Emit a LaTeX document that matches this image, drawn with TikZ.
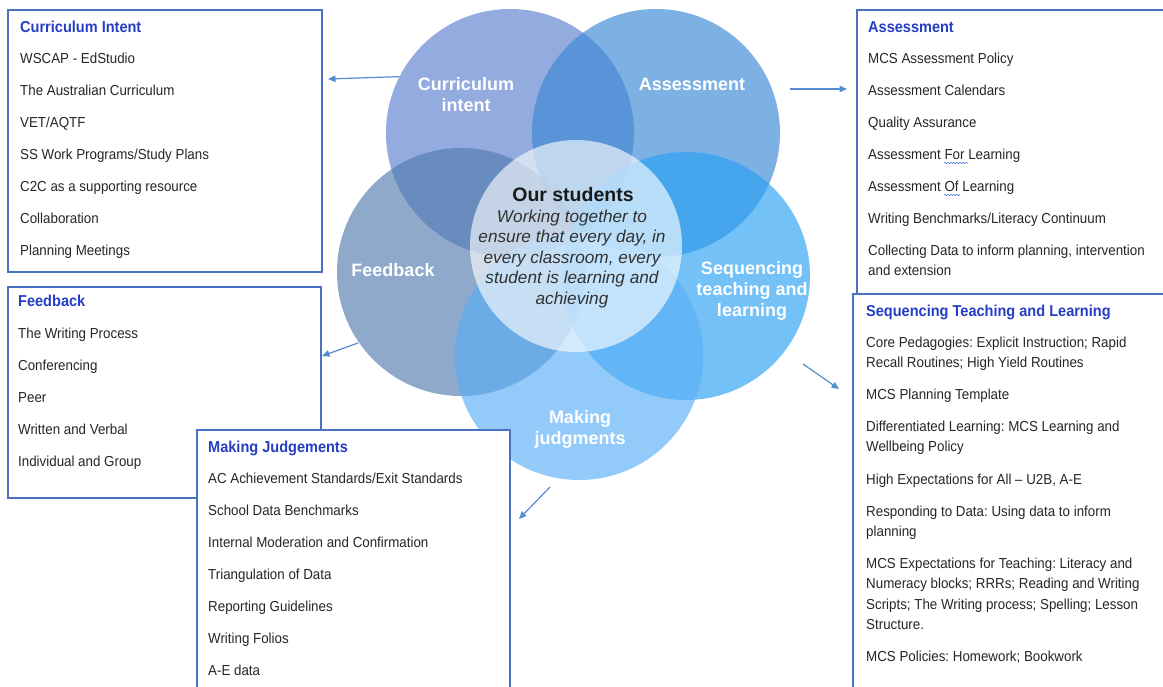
\documentclass[tikz,border=0pt]{standalone}
\usepackage{fontspec}
\setmainfont{Liberation Sans}
\newfontfamily\narrowfont{Liberation Sans}[FakeStretch=0.92]
\usetikzlibrary{arrows.meta,decorations.pathmorphing}

% petal colours (drawn semi-transparent, so overlaps darken)
\definecolor{ciBlue}{RGB}{90,126,207}
\definecolor{asBlue}{RGB}{57,136,212}
\definecolor{fbBlue}{RGB}{83,124,175}
\definecolor{sqBlue}{RGB}{40,161,243}
\definecolor{mjBlue}{RGB}{89,175,246}
% frames, arrows and text
\definecolor{frameBlue}{RGB}{74,114,196}
\definecolor{arrowBlue}{RGB}{86,140,210}
\definecolor{headBlue}{RGB}{38,62,196}
\definecolor{bodyGrey}{RGB}{38,38,38}
\definecolor{coreGrey}{RGB}{50,50,50}
\definecolor{squiggle}{RGB}{70,110,220}

\begin{document}
\frenchspacing
\begin{tikzpicture}[x=1pt,y=-1pt,
  petal/.style={circle, minimum size=248pt, inner sep=0pt, fill opacity=0.65},
  petallabel/.style={text=white, font=\fontsize{18}{21}\selectfont\bfseries, align=center},
  panel/.style={draw=frameBlue, line width=1.4pt, fill=white},
  heading/.style={anchor=north west, inner sep=0pt, text=headBlue,
    font=\narrowfont\fontsize{15.8}{20.5}\selectfont\bfseries,
    execute at begin node=\strut, yshift=9.35pt},
  entry/.style={anchor=north west, inner sep=0pt, text=bodyGrey,
    font=\narrowfont\fontsize{14.5}{20.5}\selectfont, align=left,
    execute at begin node=\strut, yshift=9.35pt},
  link/.style={draw=arrowBlue, line width=1.2pt, -{Triangle[length=7.5pt,width=6.5pt]}},
  spellmark/.style={draw=squiggle, line width=0.6pt, decorate,
    decoration={snake, amplitude=0.7pt, segment length=3pt}}
]
\useasboundingbox (0,0) rectangle (1163,687);
\fill[white] (0,0) rectangle (1163,687);

% ---- the five petals and the core ----
\node[petal, fill=ciBlue] (cC) at (510,133) {};
\node[petal, fill=asBlue] (cA) at (656,133) {};
\node[petal, fill=fbBlue] (cF) at (461,272) {};
\node[petal, fill=sqBlue] (cS) at (686,276) {};
\node[petal, fill=mjBlue] (cM) at (579,356) {};
\node[circle, minimum size=212pt, inner sep=0pt, fill=white, fill opacity=0.62] (core) at (576,246) {};

\node[petallabel] (lC) at (466,94.5) {Curriculum\\intent};
\node[petallabel] (lA) at (692,84) {Assessment};
\node[petallabel] (lF) at (393,270) {Feedback};
\node[petallabel] (lS) at (752,291) {Sequencing\\teaching and\\learning};
\node[petallabel] (lM) at (580,429.5) {Making\\judgments};

\node[text=black!90, font=\fontsize{19.5}{21}\selectfont\bfseries] (coreHead) at (573,195) {Our students};
\node[text=coreGrey, font=\fontsize{17.2}{20.5}\selectfont\itshape, align=center] (coreBody) at (572,259)
  {\strut Working together to\\\strut ensure that every day, in\\\strut every classroom, every\\\strut student is learning and\\\strut achieving};

% ---- Curriculum Intent panel ----
\draw[panel] (8,10) rectangle (322,272);
\node[heading] (ciHead) at (20,27) {Curriculum Intent};
\node[entry] (ci1) at (20,58) {WSCAP - EdStudio};
\node[entry] (ci2) at (20,90) {The Australian Curriculum};
\node[entry] (ci3) at (20,122) {VET/AQTF};
\node[entry] (ci4) at (20,154) {SS Work Programs/Study Plans};
\node[entry] (ci5) at (20,186) {C2C as a supporting resource};
\node[entry] (ci6) at (20,218) {Collaboration};
\node[entry] (ci7) at (20,250) {Planning Meetings};

% ---- Assessment panel ----
\draw[panel] (857,10) rectangle (1175,294);
\node[heading] (asHead) at (868,27) {Assessment};
\node[entry] (as1) at (868,58) {MCS Assessment Policy};
\node[entry] (as2) at (868,90) {Assessment Calendars};
\node[entry] (as3) at (868,122) {Quality Assurance};
\node[entry] (as4) at (868,154) {Assessment For Learning};
\node[entry] (as5) at (868,186) {Assessment Of Learning};
\node[entry] (as6) at (868,218) {Writing Benchmarks/Literacy Continuum};
\node[entry] (as7) at (868,250) {\strut Collecting Data to inform planning, intervention\\and extension};
% proofing squiggles under "For" and "Of"
\draw[spellmark] (944,163) -- (968,163);
\draw[spellmark] (944,195) -- (960,195);

% ---- Sequencing Teaching and Learning panel ----
\draw[panel] (853,294) rectangle (1175,700);
\node[heading] (sqHead) at (866,311) {Sequencing Teaching and Learning};
\node[entry] (sq1) at (866,342) {\strut Core Pedagogies: Explicit Instruction; Rapid\\Recall Routines; High Yield Routines};
\node[entry] (sq2) at (866,394) {MCS Planning Template};
\node[entry] (sq3) at (866,426) {\strut Differentiated Learning: MCS Learning and\\Wellbeing Policy};
\node[entry] (sq4) at (866,479) {High Expectations for All – U2B, A-E};
\node[entry] (sq5) at (866,511) {\strut Responding to Data: Using data to inform\\planning};
\node[entry] (sq6) at (866,563) {\strut MCS Expectations for Teaching: Literacy and\\Numeracy blocks; RRRs; Reading and Writing\\Scripts; The Writing process; Spelling; Lesson\\Structure.};
\node[entry] (sq7) at (866,656) {MCS Policies: Homework; Bookwork};

% ---- Feedback panel ----
\draw[panel] (8,287) rectangle (321,498);
\node[heading] (fbHead) at (18,301) {Feedback};
\node[entry] (fb1) at (18,333) {The Writing Process};
\node[entry] (fb2) at (18,365) {Conferencing};
\node[entry] (fb3) at (18,397) {Peer};
\node[entry] (fb4) at (18,429) {Written and Verbal};
\node[entry] (fb5) at (18,461) {Individual and Group};

% ---- Making Judgements panel ----
\draw[panel] (197,430) rectangle (510,700);
\node[heading] (mjHead) at (208,447) {Making Judgements};
\node[entry] (mj1) at (208,478) {AC Achievement Standards/Exit Standards};
\node[entry] (mj2) at (208,510) {School Data Benchmarks};
\node[entry] (mj3) at (208,542) {Internal Moderation and Confirmation};
\node[entry] (mj4) at (208,574) {Triangulation of Data};
\node[entry] (mj5) at (208,606) {Reporting Guidelines};
\node[entry] (mj6) at (208,638) {Writing Folios};
\node[entry] (mj7) at (208,670) {A-E data};

% ---- arrows from petals towards their panels ----
\coordinate (ciTip) at (328,79);
\coordinate (asTail) at (790,89);
\coordinate (asTip) at (847,89);
\coordinate (fbTail) at (358,343);
\coordinate (fbTip) at (322,356);
\coordinate (sqTail) at (803,364);
\coordinate (sqTip) at (839,389);
\coordinate (mjTail) at (550,487);
\coordinate (mjTip) at (519,519);
\draw[link] (cC.153.6) -- (ciTip);
\draw[link] (asTail) -- (asTip);
\draw[link] (fbTail) -- (fbTip);
\draw[link] (sqTail) -- (sqTip);
\draw[link] (mjTail) -- (mjTip);
\end{tikzpicture}
\end{document}
